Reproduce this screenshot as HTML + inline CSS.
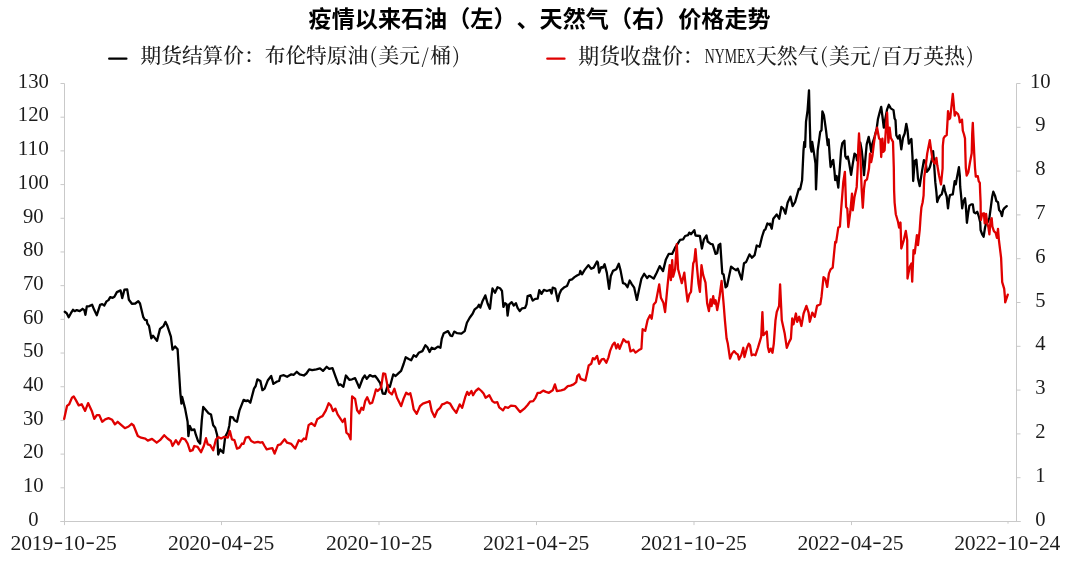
<!DOCTYPE html>
<html lang="zh-CN"><head><meta charset="utf-8"><title>疫情以来石油、天然气价格走势</title>
<style>html,body{margin:0;padding:0;background:#fff;}body{width:1080px;height:562px;overflow:hidden;}svg{display:block;}.t{font-family:"Liberation Sans","Noto Sans CJK SC",sans-serif;font-weight:700;font-size:23px;fill:#000;}.c{font-family:"Liberation Serif","Noto Serif CJK SC",serif;font-size:20.7px;font-weight:500;fill:#1c1c1c;}.n{font-family:"Liberation Serif","Noto Serif CJK SC",serif;font-size:21.6px;fill:#1c1c1c;}.p{font-family:"Noto Serif CJK SC","Liberation Serif",serif;font-weight:400;}</style></head><body>
<svg width="1080" height="562" viewBox="0 0 1080 562">
<rect width="1080" height="562" fill="#fff"/>
<text class="t" style="font-size:23.1px" x="308.60 331.70 354.80 377.90 401.00 424.10 447.20 470.30 493.40 516.50 539.60 562.70 585.80 608.90 632.00 655.10 678.20 701.30 724.40 747.50" y="26.5">疫情以来石油（左）、天然气（右）价格走势</text>
<line x1="109.2" y1="58.7" x2="126.4" y2="58.7" stroke="#000" stroke-width="2.3" stroke-linecap="round"/>
<text class="c" style="font-size:20.70px" y="63.2"><tspan x="140.50 161.20 181.90 202.60 223.30 244.00 264.70 285.40 306.10 326.80 347.50">期货结算价：布伦特原油</tspan><tspan class="p" x="373.37" text-anchor="middle">(</tspan><tspan x="378.55 399.25">美元</tspan><tspan class="p" x="425.12" text-anchor="middle">/</tspan><tspan x="430.30">桶</tspan><tspan class="p" x="456.17" text-anchor="middle">)</tspan></text>
<line x1="547.3" y1="58.7" x2="564.5" y2="58.7" stroke="#e00000" stroke-width="2.3" stroke-linecap="round"/>
<text class="c" style="font-size:20.90px" y="63.2"><tspan x="578.30 599.20 620.10 641.00 661.90 682.80">期货收盘价：</tspan><tspan x="704.70" textLength="50.8" lengthAdjust="spacingAndGlyphs">NYMEX</tspan><tspan x="755.95 776.85 797.75">天然气</tspan><tspan class="p" x="823.87" text-anchor="middle">(</tspan><tspan x="829.10 850.00">美元</tspan><tspan class="p" x="876.12" text-anchor="middle">/</tspan><tspan x="881.35 902.25 923.15 944.05">百万英热</tspan><tspan class="p" x="970.17" text-anchor="middle">)</tspan></text>
<g stroke="#c9c9c9" stroke-width="1" fill="none">
<line x1="64.5" y1="83.5" x2="64.5" y2="521.5"/>
<line x1="1016.5" y1="83.5" x2="1016.5" y2="521.5"/>
<line x1="60.5" y1="521.5" x2="1020.5" y2="521.5"/>
<line x1="60.5" y1="521.50" x2="64.5" y2="521.50"/>
<line x1="60.5" y1="487.81" x2="64.5" y2="487.81"/>
<line x1="60.5" y1="454.12" x2="64.5" y2="454.12"/>
<line x1="60.5" y1="420.42" x2="64.5" y2="420.42"/>
<line x1="60.5" y1="386.73" x2="64.5" y2="386.73"/>
<line x1="60.5" y1="353.04" x2="64.5" y2="353.04"/>
<line x1="60.5" y1="319.35" x2="64.5" y2="319.35"/>
<line x1="60.5" y1="285.65" x2="64.5" y2="285.65"/>
<line x1="60.5" y1="251.96" x2="64.5" y2="251.96"/>
<line x1="60.5" y1="218.27" x2="64.5" y2="218.27"/>
<line x1="60.5" y1="184.58" x2="64.5" y2="184.58"/>
<line x1="60.5" y1="150.88" x2="64.5" y2="150.88"/>
<line x1="60.5" y1="117.19" x2="64.5" y2="117.19"/>
<line x1="60.5" y1="83.50" x2="64.5" y2="83.50"/>
<line x1="1016.5" y1="521.50" x2="1020.5" y2="521.50"/>
<line x1="1016.5" y1="477.70" x2="1020.5" y2="477.70"/>
<line x1="1016.5" y1="433.90" x2="1020.5" y2="433.90"/>
<line x1="1016.5" y1="390.10" x2="1020.5" y2="390.10"/>
<line x1="1016.5" y1="346.30" x2="1020.5" y2="346.30"/>
<line x1="1016.5" y1="302.50" x2="1020.5" y2="302.50"/>
<line x1="1016.5" y1="258.70" x2="1020.5" y2="258.70"/>
<line x1="1016.5" y1="214.90" x2="1020.5" y2="214.90"/>
<line x1="1016.5" y1="171.10" x2="1020.5" y2="171.10"/>
<line x1="1016.5" y1="127.30" x2="1020.5" y2="127.30"/>
<line x1="1016.5" y1="83.50" x2="1020.5" y2="83.50"/>
<line x1="64.5" y1="521.5" x2="64.5" y2="525.1"/>
<line x1="221.5" y1="521.5" x2="221.5" y2="525.1"/>
<line x1="379.0" y1="521.5" x2="379.0" y2="525.1"/>
<line x1="536.5" y1="521.5" x2="536.5" y2="525.1"/>
<line x1="694.0" y1="521.5" x2="694.0" y2="525.1"/>
<line x1="851.5" y1="521.5" x2="851.5" y2="525.1"/>
<line x1="1008.0" y1="521.5" x2="1008.0" y2="523.7"/>
</g>
<text class="n" x="33.3" y="525.7" text-anchor="middle" textLength="10.3" lengthAdjust="spacingAndGlyphs">0</text>
<text class="n" x="33.3" y="492.0" text-anchor="middle" textLength="20.7" lengthAdjust="spacingAndGlyphs">10</text>
<text class="n" x="33.3" y="458.3" text-anchor="middle" textLength="20.7" lengthAdjust="spacingAndGlyphs">20</text>
<text class="n" x="33.3" y="424.6" text-anchor="middle" textLength="20.7" lengthAdjust="spacingAndGlyphs">30</text>
<text class="n" x="33.3" y="390.9" text-anchor="middle" textLength="20.7" lengthAdjust="spacingAndGlyphs">40</text>
<text class="n" x="33.3" y="357.2" text-anchor="middle" textLength="20.7" lengthAdjust="spacingAndGlyphs">50</text>
<text class="n" x="33.3" y="323.5" text-anchor="middle" textLength="20.7" lengthAdjust="spacingAndGlyphs">60</text>
<text class="n" x="33.3" y="289.9" text-anchor="middle" textLength="20.7" lengthAdjust="spacingAndGlyphs">70</text>
<text class="n" x="33.3" y="256.2" text-anchor="middle" textLength="20.7" lengthAdjust="spacingAndGlyphs">80</text>
<text class="n" x="33.3" y="222.5" text-anchor="middle" textLength="20.7" lengthAdjust="spacingAndGlyphs">90</text>
<text class="n" x="33.3" y="188.8" text-anchor="middle" textLength="31.0" lengthAdjust="spacingAndGlyphs">100</text>
<text class="n" x="33.3" y="155.1" text-anchor="middle" textLength="31.0" lengthAdjust="spacingAndGlyphs">110</text>
<text class="n" x="33.3" y="121.4" text-anchor="middle" textLength="31.0" lengthAdjust="spacingAndGlyphs">120</text>
<text class="n" x="33.3" y="87.7" text-anchor="middle" textLength="31.0" lengthAdjust="spacingAndGlyphs">130</text>
<text class="n" x="1040.3" y="525.6" text-anchor="middle" textLength="10.3" lengthAdjust="spacingAndGlyphs">0</text>
<text class="n" x="1040.3" y="481.8" text-anchor="middle" textLength="10.3" lengthAdjust="spacingAndGlyphs">1</text>
<text class="n" x="1040.3" y="438.0" text-anchor="middle" textLength="10.3" lengthAdjust="spacingAndGlyphs">2</text>
<text class="n" x="1040.3" y="394.2" text-anchor="middle" textLength="10.3" lengthAdjust="spacingAndGlyphs">3</text>
<text class="n" x="1040.3" y="350.4" text-anchor="middle" textLength="10.3" lengthAdjust="spacingAndGlyphs">4</text>
<text class="n" x="1040.3" y="306.6" text-anchor="middle" textLength="10.3" lengthAdjust="spacingAndGlyphs">5</text>
<text class="n" x="1040.3" y="262.8" text-anchor="middle" textLength="10.3" lengthAdjust="spacingAndGlyphs">6</text>
<text class="n" x="1040.3" y="219.0" text-anchor="middle" textLength="10.3" lengthAdjust="spacingAndGlyphs">7</text>
<text class="n" x="1040.3" y="175.2" text-anchor="middle" textLength="10.3" lengthAdjust="spacingAndGlyphs">8</text>
<text class="n" x="1040.3" y="131.4" text-anchor="middle" textLength="10.3" lengthAdjust="spacingAndGlyphs">9</text>
<text class="n" x="1040.3" y="87.6" text-anchor="middle" textLength="20.7" lengthAdjust="spacingAndGlyphs">10</text>
<text class="n"><tspan x="16.00 26.60 37.20 47.80" y="550.2" text-anchor="middle">2019</tspan><tspan x="53.70" y="547.6" textLength="9.4" lengthAdjust="spacingAndGlyphs">-</tspan><tspan x="69.00 79.60" y="550.2" text-anchor="middle">10</tspan><tspan x="85.50" y="547.6" textLength="9.4" lengthAdjust="spacingAndGlyphs">-</tspan><tspan x="100.80 111.40" y="550.2" text-anchor="middle">25</tspan></text>
<text class="n"><tspan x="173.50 184.10 194.70 205.30" y="550.2" text-anchor="middle">2020</tspan><tspan x="211.20" y="547.6" textLength="9.4" lengthAdjust="spacingAndGlyphs">-</tspan><tspan x="226.50 237.10" y="550.2" text-anchor="middle">04</tspan><tspan x="243.00" y="547.6" textLength="9.4" lengthAdjust="spacingAndGlyphs">-</tspan><tspan x="258.30 268.90" y="550.2" text-anchor="middle">25</tspan></text>
<text class="n"><tspan x="331.50 342.10 352.70 363.30" y="550.2" text-anchor="middle">2020</tspan><tspan x="369.20" y="547.6" textLength="9.4" lengthAdjust="spacingAndGlyphs">-</tspan><tspan x="384.50 395.10" y="550.2" text-anchor="middle">10</tspan><tspan x="401.00" y="547.6" textLength="9.4" lengthAdjust="spacingAndGlyphs">-</tspan><tspan x="416.30 426.90" y="550.2" text-anchor="middle">25</tspan></text>
<text class="n"><tspan x="488.50 499.10 509.70 520.30" y="550.2" text-anchor="middle">2021</tspan><tspan x="526.20" y="547.6" textLength="9.4" lengthAdjust="spacingAndGlyphs">-</tspan><tspan x="541.50 552.10" y="550.2" text-anchor="middle">04</tspan><tspan x="558.00" y="547.6" textLength="9.4" lengthAdjust="spacingAndGlyphs">-</tspan><tspan x="573.30 583.90" y="550.2" text-anchor="middle">25</tspan></text>
<text class="n"><tspan x="646.10 656.70 667.30 677.90" y="550.2" text-anchor="middle">2021</tspan><tspan x="683.80" y="547.6" textLength="9.4" lengthAdjust="spacingAndGlyphs">-</tspan><tspan x="699.10 709.70" y="550.2" text-anchor="middle">10</tspan><tspan x="715.60" y="547.6" textLength="9.4" lengthAdjust="spacingAndGlyphs">-</tspan><tspan x="730.90 741.50" y="550.2" text-anchor="middle">25</tspan></text>
<text class="n"><tspan x="802.80 813.40 824.00 834.60" y="550.2" text-anchor="middle">2022</tspan><tspan x="840.50" y="547.6" textLength="9.4" lengthAdjust="spacingAndGlyphs">-</tspan><tspan x="855.80 866.40" y="550.2" text-anchor="middle">04</tspan><tspan x="872.30" y="547.6" textLength="9.4" lengthAdjust="spacingAndGlyphs">-</tspan><tspan x="887.60 898.20" y="550.2" text-anchor="middle">25</tspan></text>
<text class="n"><tspan x="959.60 970.20 980.80 991.40" y="550.2" text-anchor="middle">2022</tspan><tspan x="997.30" y="547.6" textLength="9.4" lengthAdjust="spacingAndGlyphs">-</tspan><tspan x="1012.60 1023.20" y="550.2" text-anchor="middle">10</tspan><tspan x="1029.10" y="547.6" textLength="9.4" lengthAdjust="spacingAndGlyphs">-</tspan><tspan x="1044.40 1055.00" y="550.2" text-anchor="middle">24</tspan></text>
<path d="M64.7,311.8 L66.7,313.2 L68.7,317.2 L70.9,313.2 L73.0,309.8 L74.7,311.2 L76.7,310.1 L79.7,311.2 L82.6,308.8 L84.3,310.1 L85.4,314.8 L86.8,306.5 L89.3,306.1 L92.1,304.8 L94.3,310.1 L96.8,315.2 L100.1,304.8 L102.2,304.1 L104.3,305.5 L106.5,301.4 L108.5,300.1 L110.2,297.1 L112.7,297.8 L114.4,296.8 L116.9,292.1 L120.6,290.4 L122.2,298.1 L124.4,289.7 L127.2,289.4 L128.9,299.8 L131.9,303.8 L135.3,303.5 L138.3,301.1 L140.0,303.5 L143.3,317.2 L145.0,319.9 L146.7,320.2 L147.3,323.5 L149.0,325.9 L151.3,338.3 L153.0,335.6 L157.0,340.9 L160.0,328.9 L163.4,326.2 L165.4,321.9 L167.1,325.2 L170.9,336.7 L172.5,349.7 L175.1,346.4 L177.6,349.2 L178.7,366.8 L180.4,393.6 L181.4,403.6 L182.1,396.9 L185.1,408.6 L187.6,421.8 L188.4,436.1 L189.8,426.0 L191.8,430.2 L194.3,429.4 L196.0,435.2 L198.1,441.1 L200.1,443.6 L201.8,420.2 L203.2,407.0 L206.0,410.3 L208.5,413.3 L211.0,414.5 L213.2,425.2 L215.2,427.7 L217.2,435.2 L218.2,454.5 L220.2,449.4 L223.2,452.8 L225.2,436.9 L227.8,431.9 L229.4,425.2 L230.3,417.0 L232.8,417.3 L234.4,420.3 L237.0,421.7 L239.5,410.3 L243.6,399.9 L246.2,401.1 L247.8,400.3 L250.3,402.8 L254.0,388.6 L255.7,386.0 L257.4,379.3 L260.4,381.0 L262.4,390.2 L264.6,388.6 L267.9,380.2 L271.2,376.0 L273.4,383.9 L277.1,381.5 L279.1,381.0 L280.4,376.0 L283.8,375.2 L287.1,376.8 L291.3,374.3 L293.8,374.8 L296.8,371.8 L299.7,374.3 L303.9,375.5 L306.4,373.5 L309.2,369.3 L312.2,370.1 L316.4,369.3 L320.0,368.4 L323.0,370.9 L326.7,366.8 L329.2,368.8 L332.5,368.1 L335.9,377.6 L338.7,385.2 L340.4,384.3 L343.4,386.8 L345.9,375.5 L349.3,379.8 L352.1,379.3 L355.1,378.1 L359.3,387.7 L362.7,378.5 L364.8,375.5 L366.8,378.8 L369.9,375.1 L372.7,376.5 L375.2,376.0 L377.7,379.3 L380.2,383.2 L382.7,393.5 L385.2,393.9 L387.8,385.2 L389.9,386.8 L393.3,374.3 L395.6,376.0 L398.6,373.1 L401.1,370.9 L403.6,364.0 L405.7,357.3 L408.7,359.0 L411.2,360.3 L413.7,355.3 L416.2,356.7 L418.7,352.8 L422.4,351.1 L425.4,345.3 L427.4,347.3 L429.6,352.0 L431.7,347.8 L434.6,349.0 L437.9,346.6 L440.4,347.8 L441.8,338.6 L443.8,333.2 L448.0,331.1 L450.5,335.6 L452.2,336.1 L454.2,331.6 L457.2,333.2 L461.4,333.6 L464.7,331.1 L466.9,322.7 L469.7,317.7 L472.6,313.8 L474.7,309.3 L477.6,307.1 L478.9,304.8 L480.3,307.6 L482.6,300.9 L485.3,295.4 L487.6,303.5 L489.8,308.8 L490.0,308.6 L491.3,296.9 L492.5,288.5 L495.0,292.7 L497.5,287.2 L500.0,288.2 L502.0,291.0 L503.4,306.9 L505.1,303.2 L506.7,304.4 L507.6,315.6 L509.2,304.4 L511.7,302.2 L513.8,305.6 L515.9,303.2 L517.6,307.8 L519.8,311.1 L522.1,308.3 L525.1,307.8 L526.5,304.4 L527.6,296.0 L530.5,295.2 L532.7,300.6 L535.2,298.9 L537.7,298.6 L539.3,290.2 L541.5,293.9 L543.9,289.9 L546.9,291.0 L550.2,289.9 L551.6,293.5 L552.7,287.7 L555.2,288.5 L557.8,301.1 L559.4,293.9 L561.1,290.2 L564.4,287.2 L567.0,286.0 L569.5,280.1 L572.0,279.3 L574.5,277.1 L577.0,275.5 L579.5,274.3 L580.3,270.9 L582.0,274.3 L584.5,270.1 L588.4,265.1 L591.2,268.8 L593.7,267.6 L597.1,261.4 L597.9,262.6 L599.1,272.6 L601.2,267.1 L602.9,267.6 L604.6,264.3 L606.8,272.6 L609.1,288.8 L610.8,276.0 L613.0,270.9 L616.3,269.3 L618.8,263.8 L620.5,270.1 L623.0,283.2 L625.2,283.8 L627.5,287.2 L629.7,280.5 L631.9,284.3 L634.2,287.7 L636.9,299.9 L638.9,290.2 L641.4,278.8 L644.2,273.8 L647.2,278.1 L648.9,276.0 L650.0,276.1 L653.7,278.6 L656.7,272.8 L659.7,266.1 L663.0,271.1 L665.9,259.4 L668.7,253.9 L672.1,253.9 L675.1,247.7 L677.6,243.8 L680.1,239.8 L683.1,239.3 L685.1,236.0 L688.1,235.1 L689.3,232.6 L691.0,234.3 L694.3,230.1 L695.5,235.5 L699.9,236.0 L701.9,248.5 L703.9,239.3 L706.5,235.5 L707.7,241.5 L710.6,243.8 L712.7,244.3 L715.6,253.9 L717.2,253.2 L718.6,245.2 L720.3,243.8 L721.6,263.6 L722.3,273.6 L723.6,274.4 L725.6,287.3 L727.0,286.2 L728.6,278.6 L731.1,266.6 L733.6,268.6 L736.2,270.3 L737.8,268.6 L741.7,279.5 L744.0,263.2 L746.2,261.9 L749.5,254.4 L752.0,257.7 L754.6,255.2 L756.7,245.5 L759.6,246.8 L762.1,236.5 L764.1,230.4 L765.4,229.3 L767.4,223.4 L769.6,224.8 L770.0,223.7 L771.7,228.7 L773.3,218.7 L776.7,214.5 L779.2,218.7 L781.4,207.0 L783.4,208.6 L785.4,213.7 L787.6,202.8 L790.4,196.6 L792.6,206.1 L795.1,202.0 L798.8,188.9 L800.1,189.4 L802.1,180.2 L803.5,150.3 L804.3,141.9 L805.1,146.9 L806.0,121.8 L807.6,110.1 L809.0,90.4 L809.8,123.5 L810.5,146.9 L811.5,151.6 L812.2,141.9 L813.8,151.9 L815.5,163.6 L816.0,189.4 L817.7,150.3 L820.2,131.9 L821.5,130.2 L822.4,111.4 L823.9,115.1 L826.0,130.2 L827.7,145.2 L828.6,139.4 L829.9,158.6 L830.6,167.0 L831.9,162.0 L833.2,160.0 L834.4,170.3 L835.2,180.2 L836.6,176.0 L838.3,187.7 L839.9,167.0 L841.1,150.3 L842.3,143.2 L844.4,140.6 L845.3,156.1 L846.6,158.6 L847.8,156.6 L849.0,162.0 L851.1,174.9 L852.8,163.6 L854.5,153.6 L856.2,155.3 L857.0,160.3 L858.7,150.3 L860.3,142.7 L861.7,150.3 L862.8,160.3 L864.0,175.2 L865.4,158.6 L866.7,144.4 L868.7,136.9 L870.4,146.1 L871.2,151.9 L872.4,143.6 L874.6,136.9 L876.7,128.5 L877.9,119.3 L879.6,112.6 L881.2,106.8 L882.4,116.0 L883.8,127.7 L885.4,118.5 L887.1,109.3 L888.8,104.8 L890.8,108.4 L893.5,110.1 L894.6,118.5 L895.5,120.1 L896.3,135.2 L898.0,138.6 L899.6,135.2 L901.3,149.4 L903.0,137.7 L904.7,133.5 L906.3,123.8 L907.5,130.2 L908.8,143.6 L911.4,138.9 L912.5,157.0 L913.2,181.0 L914.7,161.0 L916.4,159.8 L918.0,178.5 L919.7,186.1 L921.9,171.8 L923.9,160.1 L925.6,161.8 L926.9,171.8 L928.9,169.3 L930.0,166.7 L931.7,160.0 L933.1,151.1 L933.9,160.0 L934.4,168.9 L935.3,182.2 L936.4,192.2 L937.2,202.0 L938.3,198.9 L940.0,195.6 L941.7,194.4 L943.1,188.9 L943.9,185.6 L945.0,191.1 L946.7,196.7 L948.0,208.3 L949.1,198.9 L950.0,195.0 L952.8,194.4 L953.9,186.7 L954.7,181.1 L955.8,184.4 L956.7,178.9 L957.8,173.3 L958.9,167.2 L959.8,175.6 L960.2,186.7 L961.1,195.6 L962.2,208.3 L963.3,201.7 L965.0,198.3 L965.8,205.6 L966.9,222.8 L968.3,212.2 L969.4,205.6 L971.3,204.4 L972.8,204.4 L973.9,212.2 L975.6,213.3 L977.2,211.7 L978.9,216.7 L980.2,222.2 L980.6,230.0 L982.2,234.4 L983.6,236.7 L985.0,227.8 L986.1,223.3 L987.8,222.2 L989.4,217.8 L990.9,206.7 L992.2,196.7 L993.3,191.7 L995.0,195.6 L996.4,201.1 L998.0,202.2 L999.1,210.0 L1000.6,211.7 L1002.0,216.1 L1003.1,210.0 L1004.7,207.8 L1006.7,206.1" fill="none" stroke="#000" stroke-width="2.3" stroke-linejoin="round" stroke-linecap="round"/>
<path d="M64.2,418.8 L67.0,405.9 L69.2,404.3 L72.0,397.6 L73.7,396.4 L75.9,400.1 L78.7,405.4 L81.7,404.3 L85.1,410.9 L88.1,403.1 L91.8,410.9 L94.3,418.8 L96.8,415.1 L99.3,415.1 L102.2,421.8 L105.2,419.3 L108.5,418.1 L112.2,419.8 L114.9,424.3 L117.7,421.8 L121.1,424.8 L124.9,428.2 L128.6,426.5 L131.6,423.8 L133.6,425.5 L137.8,436.0 L141.1,437.7 L145.3,438.6 L147.8,440.6 L152.0,438.9 L156.7,442.7 L160.0,440.2 L164.2,435.2 L167.5,438.5 L170.9,441.0 L172.5,446.0 L175.9,440.2 L178.4,444.4 L181.7,438.2 L185.1,439.3 L187.6,443.5 L190.1,451.1 L192.6,450.2 L194.3,446.0 L197.6,446.9 L201.0,452.2 L203.8,446.0 L206.0,438.2 L207.7,444.4 L210.2,445.2 L213.2,450.2 L216.0,439.3 L218.6,437.2 L221.1,438.5 L224.4,436.8 L227.8,437.7 L229.9,431.0 L231.9,439.3 L234.4,440.2 L237.0,448.6 L239.5,447.7 L242.0,443.5 L243.6,443.9 L245.7,437.7 L248.7,436.8 L251.2,441.0 L254.5,442.7 L257.9,441.9 L260.4,442.7 L262.4,442.2 L264.6,446.0 L266.7,449.4 L269.6,448.6 L272.4,448.2 L274.6,453.6 L277.9,445.2 L280.4,444.4 L284.6,439.3 L287.1,442.7 L291.3,443.9 L295.2,448.6 L298.8,440.2 L301.4,441.5 L303.9,438.5 L305.9,439.3 L308.6,425.1 L311.4,423.1 L314.7,426.0 L317.2,419.3 L319.8,417.6 L320.0,417.3 L322.5,416.1 L325.9,410.3 L328.7,403.2 L330.9,405.6 L333.0,411.1 L335.4,408.6 L337.6,414.4 L340.4,418.6 L342.6,422.0 L344.8,418.6 L346.4,432.7 L348.4,434.3 L350.6,439.4 L351.3,413.6 L352.1,396.5 L355.1,398.9 L357.1,410.3 L359.3,413.3 L361.5,407.8 L363.2,409.9 L365.2,401.1 L367.2,397.2 L369.9,403.6 L372.2,402.7 L374.4,395.2 L376.0,389.3 L377.7,391.0 L381.1,387.7 L383.2,373.5 L385.2,373.8 L387.2,384.3 L388.9,391.9 L391.9,394.4 L394.4,388.8 L397.0,397.7 L401.1,406.1 L403.6,398.6 L406.2,392.7 L408.3,394.4 L410.3,393.2 L412.0,400.2 L413.7,409.4 L416.7,413.9 L420.0,406.1 L422.9,403.6 L427.1,402.2 L429.6,401.1 L431.7,411.1 L434.6,417.0 L437.4,410.3 L440.1,407.8 L442.1,404.4 L444.6,403.6 L447.1,402.2 L450.1,403.6 L453.0,408.6 L456.3,412.8 L459.7,404.4 L462.2,407.8 L465.2,397.2 L467.2,391.9 L468.9,394.9 L471.4,391.0 L473.1,395.2 L475.6,391.0 L478.6,388.5 L481.4,391.0 L483.6,393.5 L485.6,397.7 L489.3,395.2 L492.3,401.1 L494.8,402.7 L497.3,402.2 L499.2,407.3 L503.0,410.3 L505.1,407.0 L508.1,407.8 L510.9,405.7 L515.4,406.2 L520.1,412.0 L524.3,408.7 L527.6,405.0 L530.1,401.6 L533.2,401.1 L535.5,397.8 L537.7,392.8 L540.2,392.8 L543.2,390.6 L546.0,391.9 L548.9,392.8 L552.7,390.3 L554.9,384.4 L556.9,391.1 L561.1,390.3 L564.4,389.4 L567.8,386.1 L570.6,385.6 L573.6,384.4 L576.2,382.2 L577.3,376.0 L579.0,374.4 L580.7,378.9 L585.4,380.6 L587.0,373.5 L588.7,365.5 L591.2,363.8 L592.9,358.1 L594.6,359.3 L597.1,356.0 L599.1,363.8 L601.7,359.3 L603.8,358.8 L606.3,362.7 L608.4,357.6 L610.1,350.9 L612.5,345.1 L614.6,342.6 L616.3,348.4 L618.0,344.3 L619.6,348.8 L621.8,343.4 L623.5,339.2 L626.3,342.1 L628.5,341.7 L630.5,351.4 L633.5,349.8 L635.5,352.6 L638.9,350.1 L641.4,348.8 L642.6,329.2 L645.2,330.9 L647.6,320.0 L650.0,315.3 L651.7,318.7 L653.7,304.4 L655.9,301.9 L659.2,284.4 L660.9,297.8 L663.4,302.8 L665.1,312.0 L667.6,285.2 L669.7,265.1 L670.9,280.2 L672.2,260.1 L673.1,276.8 L675.1,269.3 L676.8,244.2 L678.1,269.3 L680.1,276.8 L681.8,283.2 L684.3,272.7 L686.0,288.6 L687.6,301.6 L689.3,294.4 L691.0,291.9 L693.2,263.5 L694.3,260.9 L695.5,249.2 L696.8,265.1 L698.5,283.5 L699.9,291.9 L701.5,265.1 L703.2,275.2 L705.5,282.7 L707.2,303.6 L708.9,311.1 L710.6,299.4 L711.6,306.1 L713.2,296.1 L714.4,303.6 L715.6,300.3 L717.2,310.0 L719.4,297.8 L721.6,281.0 L723.6,303.6 L724.9,320.2 L726.6,338.6 L727.8,343.6 L730.0,358.6 L732.0,353.6 L734.0,351.1 L736.2,353.6 L737.8,354.5 L739.0,359.5 L741.2,355.3 L743.3,347.8 L744.5,357.0 L747.0,347.8 L748.7,343.6 L750.0,345.3 L751.7,355.3 L753.7,354.5 L755.4,355.3 L757.9,347.8 L761.2,336.9 L762.4,312.1 L763.4,335.2 L766.8,331.5 L767.9,346.9 L769.1,352.0 L770.8,348.6 L772.5,352.8 L773.8,343.6 L775.5,320.2 L776.8,311.8 L779.1,305.9 L780.1,284.4 L781.8,320.2 L784.7,333.6 L786.8,347.8 L789.2,341.9 L790.9,338.6 L792.2,318.5 L793.5,324.3 L795.9,313.5 L797.2,321.8 L799.2,316.8 L801.4,326.0 L803.6,313.5 L806.4,305.9 L808.6,312.6 L809.8,321.8 L812.3,312.6 L814.8,316.8 L817.0,305.9 L820.3,304.3 L821.5,296.7 L823.5,277.2 L825.2,278.6 L827.2,286.9 L828.9,273.6 L830.6,269.4 L832.7,267.7 L833.9,255.1 L835.2,241.8 L836.1,242.6 L838.3,227.5 L839.9,226.7 L841.1,210.0 L841.6,203.6 L843.3,181.9 L844.9,171.8 L846.1,207.0 L847.3,208.6 L848.3,227.0 L850.3,212.0 L852.0,193.6 L852.8,210.3 L854.5,196.9 L856.7,186.9 L857.8,165.1 L858.3,146.9 L859.0,133.5 L860.3,153.6 L861.7,190.2 L862.8,207.8 L864.0,188.6 L865.0,181.0 L867.0,179.4 L869.0,168.5 L870.0,153.6 L871.2,162.0 L872.4,156.1 L873.7,145.2 L875.1,135.2 L877.1,127.7 L879.1,138.6 L880.4,139.4 L881.2,157.0 L882.4,138.6 L883.4,151.9 L884.6,150.3 L885.8,130.2 L887.1,112.6 L888.4,142.7 L889.6,127.7 L890.8,137.7 L893.0,141.9 L893.8,167.7 L894.1,190.2 L894.6,202.5 L895.8,214.2 L898.0,221.7 L899.1,227.5 L900.5,222.5 L901.3,248.5 L903.8,240.1 L905.8,230.9 L907.2,240.1 L907.5,278.6 L909.7,266.9 L911.4,263.5 L912.2,281.6 L913.5,250.1 L914.7,253.5 L916.9,235.1 L918.0,245.1 L919.7,230.1 L920.6,216.7 L921.4,207.5 L922.6,202.5 L923.6,195.3 L924.2,177.7 L925.6,167.0 L927.2,153.6 L929.8,140.2 L931.4,151.9 L932.6,160.3 L934.8,163.6 L936.4,157.8 L937.3,165.3 L939.0,175.2 L941.0,184.4 L942.6,168.5 L942.8,146.0 L943.6,138.4 L945.0,136.2 L946.7,135.1 L947.6,119.6 L948.0,111.2 L949.4,119.0 L950.2,117.9 L951.7,104.0 L952.8,93.8 L953.9,106.2 L954.7,115.7 L956.1,112.3 L958.0,114.0 L959.1,117.3 L959.8,122.3 L960.9,121.8 L962.0,119.6 L962.8,130.7 L963.9,134.0 L965.0,138.4 L965.3,151.1 L965.8,167.8 L966.7,175.6 L968.3,172.2 L970.0,162.2 L971.7,153.3 L972.2,134.0 L972.8,122.9 L973.3,134.0 L973.9,146.2 L974.2,153.3 L975.0,167.8 L975.8,176.7 L977.8,176.1 L978.7,181.1 L979.8,182.8 L980.2,193.3 L980.6,202.0 L980.7,212.2 L980.9,220.0 L982.2,213.9 L983.9,213.3 L984.7,223.3 L986.1,213.9 L987.2,223.3 L988.3,226.7 L989.4,234.4 L990.6,220.0 L991.7,218.3 L992.4,226.7 L993.9,231.1 L995.6,232.8 L996.9,237.8 L998.0,228.9 L998.9,240.0 L1000.0,248.9 L1001.1,257.8 L1001.7,271.1 L1002.2,282.2 L1004.2,288.9 L1005.0,297.8 L1005.2,302.4 L1007.8,294.7" fill="none" stroke="#e00000" stroke-width="2.3" stroke-linejoin="round" stroke-linecap="round"/>
</svg></body></html>
